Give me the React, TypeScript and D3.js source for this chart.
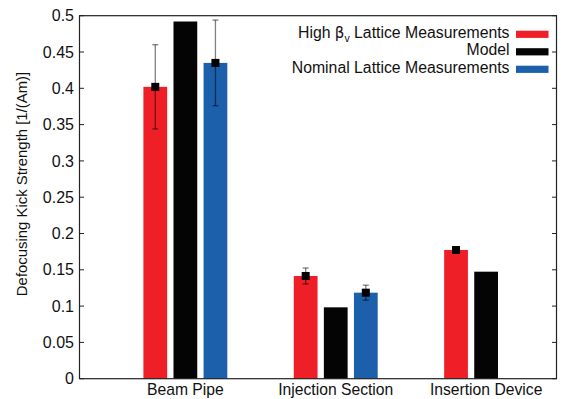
import { useEffect, useRef } from 'react';
import * as d3 from 'd3';

const categories = ['Beam Pipe', 'Injection Section', 'Insertion Device'];
const seriesNames = ['High', 'Model', 'Nominal'];

// values per category, null = no bar
const highBeta = [0.402, 0.1415, 0.1773];
const highBetaErr = [0.058, 0.011, 0.003];
const model = [0.492, 0.0983, 0.1474];
const nominal: (number | null)[] = [0.435, 0.1185, null];
const nominalErr: (number | null)[] = [0.059, 0.0103, null];

const yTicks = [0, 0.05, 0.1, 0.15, 0.2, 0.25, 0.3, 0.35, 0.4, 0.45, 0.5];

const COLORS: Record<string, string> = {
    High: '#ee1f26', // red
    Model: '#040404', // black
    Nominal: '#1c5faa', // blue
};

const FONT = 'Liberation Sans, Arial, sans-serif';

const App = () => {
    const svgRef = useRef<SVGSVGElement | null>(null);

    useEffect(() => {
        if (!svgRef.current) return;
        const svg = d3.select(svgRef.current);
        svg.selectAll('*').remove();

        const width = 565;
        const height = 399;
        const left = 79.5;
        const right = 556.5;
        const top = 15.7;
        const bottom = 378.7;

        svg.attr('width', width).attr('height', height);

        const x = d3.scaleLinear().domain([-0.704, 2.468]).range([left, right]);
        const y = d3.scaleLinear().domain([0, 0.5]).range([bottom, top]);

        const barOffset = 0.2;
        const barWidth = 0.158;

        // bars
        const rows: { cat: number; s: number; name: string; v: number | null; err: number | null }[] = [];
        categories.forEach((_, i) => {
            rows.push({ cat: i, s: -1, name: 'High', v: highBeta[i], err: highBetaErr[i] });
            rows.push({ cat: i, s: 0, name: 'Model', v: model[i], err: null });
            rows.push({ cat: i, s: 1, name: 'Nominal', v: nominal[i], err: nominalErr[i] });
        });
        const bars = rows.filter((d) => d.v !== null);

        const g = svg.append('g');
        g.selectAll('rect.bar')
            .data(bars)
            .enter()
            .append('rect')
            .attr('class', 'bar')
            .attr('x', (d) => x(d.cat + d.s * barOffset - barWidth / 2))
            .attr('width', x(barWidth) - x(0))
            .attr('y', (d) => y(d.v as number))
            .attr('height', (d) => y(0) - y(d.v as number))
            .attr('fill', (d) => COLORS[d.name]);

        // error bars
        const errs = bars.filter((d) => d.err !== null);
        const eg = g.selectAll('g.err').data(errs).enter().append('g').attr('class', 'err');
        const cx = (d: any) => x(d.cat + d.s * barOffset);
        eg.append('line')
            .attr('x1', cx)
            .attr('x2', cx)
            .attr('y1', (d) => y(d.v + d.err))
            .attr('y2', (d) => y(d.v - d.err))
            .attr('stroke', '#000')
            .attr('stroke-opacity', 0.5)
            .attr('stroke-width', 1.3);
        [1, -1].forEach((sign) => {
            eg.append('line')
                .attr('x1', (d) => cx(d) - 3)
                .attr('x2', (d) => cx(d) + 3)
                .attr('y1', (d) => y(d.v + sign * d.err))
                .attr('y2', (d) => y(d.v + sign * d.err))
                .attr('stroke', '#000')
                .attr('stroke-opacity', 0.5)
                .attr('stroke-width', 1.3);
        });
        eg.append('rect')
            .attr('x', (d) => cx(d) - 4)
            .attr('y', (d) => y(d.v) - 4)
            .attr('width', 8)
            .attr('height', 8)
            .attr('fill', '#000');

        // frame
        g.append('rect')
            .attr('x', left)
            .attr('y', top)
            .attr('width', right - left)
            .attr('height', bottom - top)
            .attr('fill', 'none')
            .attr('stroke', '#222')
            .attr('stroke-width', 1.2);

        // y ticks, inward on both sides
        const tg = g.selectAll('g.ytick').data(yTicks).enter().append('g').attr('class', 'ytick');
        tg.append('line')
            .attr('x1', left)
            .attr('x2', left + 4.5)
            .attr('y1', (d) => y(d))
            .attr('y2', (d) => y(d))
            .attr('stroke', '#222');
        tg.append('line')
            .attr('x1', right - 4.5)
            .attr('x2', right)
            .attr('y1', (d) => y(d))
            .attr('y2', (d) => y(d))
            .attr('stroke', '#222');
        tg.append('text')
            .attr('x', left - 5.5)
            .attr('y', (d) => y(d) + 5.6)
            .attr('text-anchor', 'end')
            .attr('font-family', FONT)
            .attr('font-size', 16)
            .attr('fill', '#111')
            .text((d) => d3.format('~g')(d));

        // category labels
        g.selectAll('text.cat')
            .data(categories)
            .enter()
            .append('text')
            .attr('class', 'cat')
            .attr('x', (_, i) => x(i))
            .attr('y', 394.5)
            .attr('text-anchor', 'middle')
            .attr('font-family', FONT)
            .attr('font-size', 15.7)
            .attr('fill', '#111')
            .text((d) => d);

        // y axis label
        g.append('text')
            .attr('transform', 'translate(26.5,184) rotate(-90)')
            .attr('text-anchor', 'middle')
            .attr('font-family', FONT)
            .attr('font-size', 14.9)
            .attr('fill', '#111')
            .text('Defocusing Kick Strength [1/(Am)]');

        // legend
        const lg = g.append('g');
        const legendY = [37.5, 55, 72.5];
        seriesNames.forEach((name, i) => {
            const t = lg
                .append('text')
                .attr('x', 509.5)
                .attr('y', legendY[i])
                .attr('text-anchor', 'end')
                .attr('font-family', FONT)
                .attr('font-size', 15.8)
                .attr('fill', '#111');
            if (name === 'High') {
                t.append('tspan').text('High ');
                t.append('tspan').attr('font-family', 'DejaVu Sans, sans-serif').attr('font-size', 15).text('β');
                t.append('tspan').attr('font-size', 10.5).attr('dy', 4).text('v');
                t.append('tspan').attr('dy', -4).text(' Lattice Measurements');
            } else if (name === 'Model') {
                t.text('Model');
            } else {
                t.text('Nominal Lattice Measurements');
            }
            lg.append('rect')
                .attr('x', 516)
                .attr('y', legendY[i] - 6.8)
                .attr('width', 32.5)
                .attr('height', 7.2)
                .attr('fill', COLORS[name]);
        });
    }, []);

    return (
        <div style={{ position: 'absolute', left: 0, top: 0 }}>
            <svg ref={svgRef} style={{ display: 'block' }}></svg>
        </div>
    );
};

export default App;
